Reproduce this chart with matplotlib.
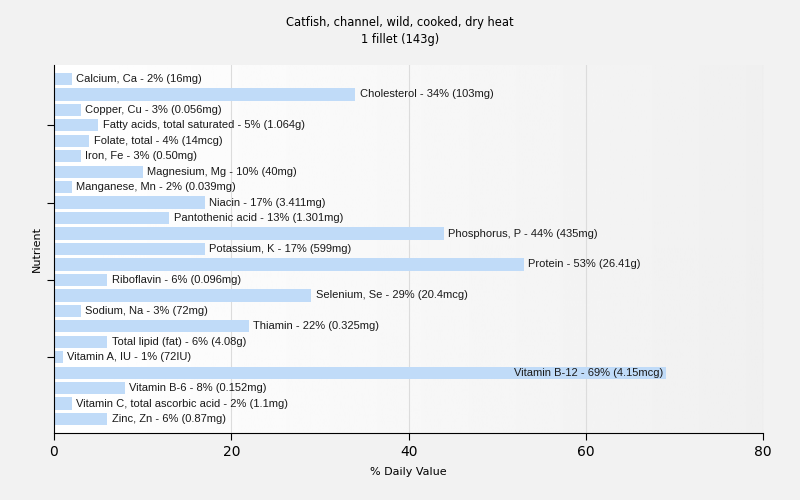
import numpy as np
import matplotlib.pyplot as plt

nutrients = ['Calcium, Ca', 'Cholesterol', 'Copper, Cu', 'Fatty acids, total saturated',
             'Folate, total', 'Iron, Fe', 'Magnesium, Mg', 'Manganese, Mn', 'Niacin',
             'Pantothenic acid', 'Phosphorus, P', 'Potassium, K', 'Protein', 'Riboflavin',
             'Selenium, Se', 'Sodium, Na', 'Thiamin', 'Total lipid (fat)', 'Vitamin A, IU',
             'Vitamin B-12', 'Vitamin B-6', 'Vitamin C, total ascorbic acid', 'Zinc, Zn']
daily_pct = [2, 34, 3, 5, 4, 3, 10, 2, 17, 13, 44, 17, 53, 6, 29, 3, 22, 6, 1, 69, 8, 2, 6]
amounts = ['16mg', '103mg', '0.056mg', '1.064g', '14mcg', '0.50mg', '40mg', '0.039mg',
           '3.411mg', '1.301mg', '435mg', '599mg', '26.41g', '0.096mg', '20.4mcg', '72mg',
           '0.325mg', '4.08g', '72IU', '4.15mcg', '0.152mg', '1.1mg', '0.87mg']

fig = plt.figure(figsize=(8, 5), dpi=100, facecolor='#f2f2f2')
ax = fig.add_axes([0.0675, 0.134, 0.8865, 0.736])

y = np.arange(len(nutrients))
ax.set_xlim(0, 80)
ax.set_ylim(len(nutrients) - 0.1, -0.9)

# plot area gradient, white on the left to light grey on the right
grad = np.linspace(1.0, 0.94, 256).reshape(1, -1)
ax.imshow(grad, cmap='gray', vmin=0, vmax=1, aspect='auto',
          extent=[0, 80, len(nutrients) - 0.1, -0.9], zorder=0)

for gx in [20, 40, 60, 80]:
    ax.axvline(gx, color='#dcdcdc', lw=0.8, zorder=1)

ax.barh(y, daily_pct, height=0.8, color='#c0dbf8', zorder=2)
for yi, v, name, amt in zip(y, daily_pct, nutrients, amounts):
    label = f'{name} - {v}% ({amt})'
    if v > 60:
        # too long to fit right of the bar: put it inside, right aligned
        ax.text(v - 0.3, yi, label, va='center', ha='right', family='Liberation Sans',
                fontsize=8, color='#1a1a1a', zorder=3)
    else:
        ax.text(v + 0.5, yi, label, va='center', ha='left', family='Liberation Sans',
                fontsize=8, color='#1a1a1a', zorder=3)

ax.set_yticks([3, 8, 13, 18])
ax.set_yticklabels([])
ax.set_xticks([0, 20, 40, 60, 80])
ax.tick_params(axis='x', labelsize=10, length=5)
ax.tick_params(axis='y', length=5)
for s in ['top', 'right']:
    ax.spines[s].set_visible(False)

ax.set_xlabel('% Daily Value', fontsize=8, labelpad=6)
ax.set_ylabel('Nutrient', fontsize=8, labelpad=0)
fig.text(0.5, 0.955, 'Catfish, channel, wild, cooked, dry heat', ha='center',
         va='center', fontsize=8.3)
fig.text(0.5, 0.92, '1 fillet (143g)', ha='center', va='center', fontsize=8.3)

fig.savefig('out.png', dpi=100, facecolor=fig.get_facecolor())
